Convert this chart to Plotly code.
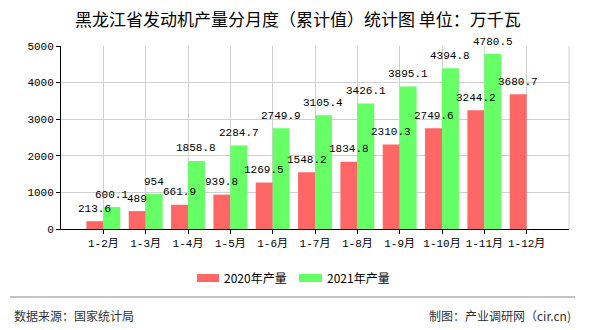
import plotly.graph_objects as go

categories = ["1-2月", "1-3月", "1-4月", "1-5月", "1-6月", "1-7月", "1-8月", "1-9月", "1-10月", "1-11月", "1-12月"]
values_2020 = [213.6, 489, 661.9, 939.8, 1269.5, 1548.2, 1834.8, 2310.3, 2749.6, 3244.2, 3680.7]
values_2021 = [600.1, 954, 1858.8, 2284.7, 2749.9, 3105.4, 3426.1, 3895.1, 4394.8, 4780.5, None]
labels_2020 = ["213.6", "489", "661.9", "939.8", "1269.5", "1548.2", "1834.8", "2310.3", "2749.6", "3244.2", "3680.7"]
labels_2021 = ["600.1", "954", "1858.8", "2284.7", "2749.9", "3105.4", "3426.1", "3895.1", "4394.8", "4780.5", ""]
series_names = ["2020年产量", "2021年产量"]
colors = ["#FF6666", "#66FF66"]
y_ticks = [0, 1000, 2000, 3000, 4000, 5000]

W, H = 590, 330
L, R, T, B = 61, 569, 46, 229

def px_x(px):
    return (px - L) / (R - L)

def px_y(py):
    return (B - py) / (B - T)

mono = "Liberation Mono, Noto Sans CJK SC, monospace"
cjk = "Noto Sans CJK SC, sans-serif"

fig = go.Figure()
for name, vals, col in zip(series_names, [values_2020, values_2021], colors):
    fig.add_trace(go.Bar(x=categories, y=vals, name=name, marker=dict(color=col, line=dict(width=0)),
                         showlegend=False))

annotations = []
slot = (R - L) / 12.0
half = slot * 0.8 / 4
for vals, labs, sh in [(values_2020, labels_2020, -half), (values_2021, labels_2021, half)]:
    for c, v, t in zip(categories, vals, labs):
        if v is None:
            continue
        annotations.append(dict(x=c, y=v, xref="x", yref="y", text=t, showarrow=False,
                                xshift=sh, yshift=12.5, yanchor="middle",
                                font=dict(family=mono, size=11, color="#000")))

# title
annotations.append(dict(x=px_x(298), y=px_y(18), xref="paper", yref="paper",
                        text="黑龙江省发动机产量分月度（累计值）统计图 单位：万千瓦",
                        showarrow=False, xanchor="center", yanchor="middle",
                        font=dict(family=cjk, size=17, color="#000")))
# legend
shapes = []
leg = [(197, 219, 222), (299, 322, 325)]
for (x0, x1, tx), name, col in zip(leg, series_names, colors):
    shapes.append(dict(type="rect", xref="paper", yref="paper", x0=px_x(x0), x1=px_x(x1),
                       y0=px_y(282), y1=px_y(274), fillcolor=col, line=dict(width=0)))
    annotations.append(dict(x=px_x(tx), y=px_y(277), xref="paper", yref="paper", text=name,
                            showarrow=False, xanchor="left", yanchor="middle",
                            font=dict(family=cjk, size=12, color="#000")))
# footer
shapes.append(dict(type="line", xref="paper", yref="paper", x0=px_x(10), x1=px_x(575),
                   y0=px_y(297), y1=px_y(297), line=dict(color="#888", width=1)))
annotations.append(dict(x=px_x(12), y=px_y(315), xref="paper", yref="paper", text="数据来源：国家统计局",
                        showarrow=False, xanchor="left", yanchor="middle",
                        font=dict(family=cjk, size=12, color="#333")))
annotations.append(dict(x=px_x(573), y=px_y(315), xref="paper", yref="paper", text="制图：产业调研网（cir.cn)",
                        showarrow=False, xanchor="right", yanchor="middle",
                        font=dict(family=cjk, size=12, color="#333")))
# right border grid line
shapes.append(dict(type="line", xref="paper", yref="paper", x0=1, x1=1, y0=0, y1=1,
                   line=dict(color="#D0D0D0", width=1), layer="below"))

fig.update_layout(
    width=W, height=H,
    margin=dict(l=L, r=W - R, t=T, b=H - B),
    paper_bgcolor="white", plot_bgcolor="white",
    barmode="group", bargap=0.2, bargroupgap=0,
    showlegend=False,
    annotations=annotations, shapes=shapes,
    xaxis=dict(type="category", range=[-1, 11], showgrid=True, gridcolor="#D0D0D0", gridwidth=1,
               showline=True, linecolor="#000", linewidth=1, ticks="outside", ticklen=4,
               tickcolor="#000", tickfont=dict(family=mono, size=11, color="#000"), zeroline=False),
    yaxis=dict(range=[0, 5000], tickvals=y_ticks, showgrid=True, gridcolor="#D0D0D0", gridwidth=1,
               showline=True, linecolor="#000", linewidth=1, ticks="outside", ticklen=4,
               tickcolor="#000", tickfont=dict(family=mono, size=11, color="#000"), zeroline=False),
)

fig.write_html("out.html")
